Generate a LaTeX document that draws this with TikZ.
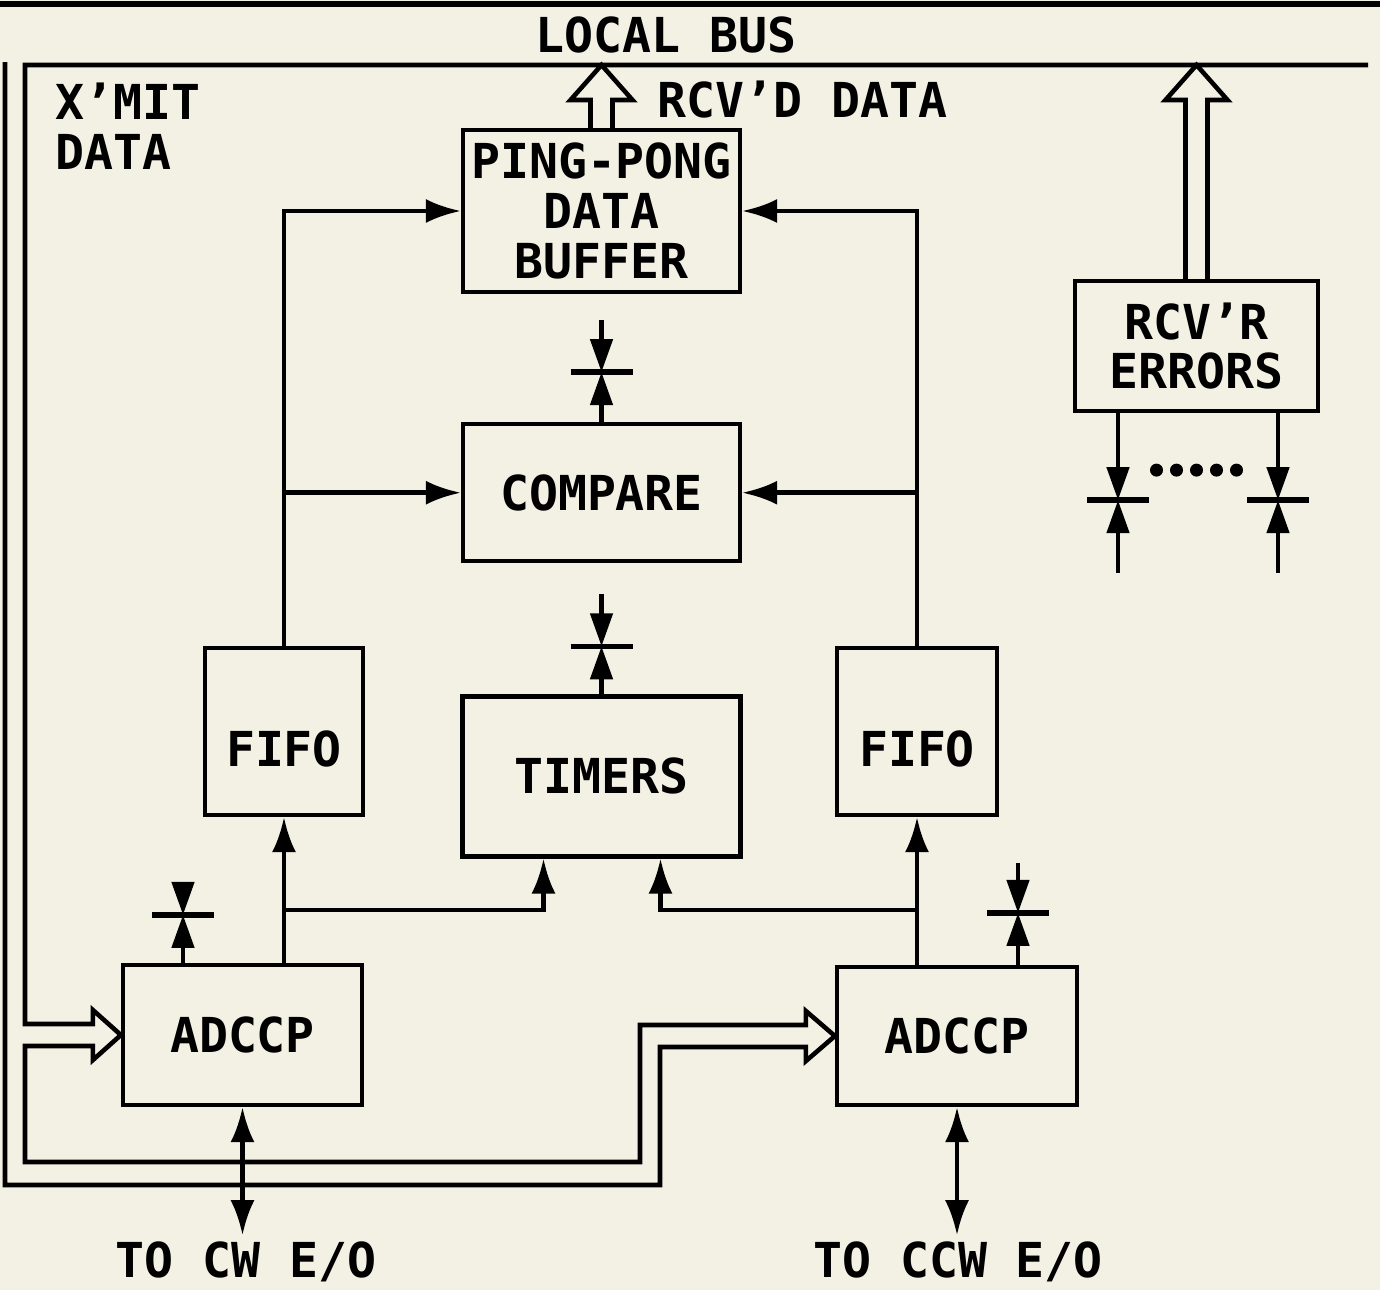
\documentclass[tikz,border=0pt]{standalone}
\usepackage{fontspec}
\usepackage{tikz}
\usetikzlibrary{arrows.meta,positioning,calc}
\newfontfamily\plotfont{DejaVu Sans Mono}
\newcommand{\diagfont}{\plotfont\bfseries\fontsize{13.7}{14.2}\selectfont}
\definecolor{paper}{RGB}{243,240,228}

\begin{document}
\begin{tikzpicture}[
  blk/.style={
    rectangle, draw=black, line width=1.2pt,
    font=\diagfont, align=center, inner sep=2pt
  },
  lbl/.style={font=\diagfont, inner sep=0pt},
  arr/.style={-{Latex[length=3.5mm,width=2.4mm]}, line width=1.3pt},
  dblarr/.style={{Latex[length=3.5mm,width=2.4mm]}-{Latex[length=3.5mm,width=2.4mm]}, line width=1.3pt},
  tap/.style={-{Triangle[length=3.3mm,width=2.2mm]}, line width=1.3pt},
  tapbar/.style={line width=1.5pt},
  bus/.style={line width=1.3pt, line join=miter}
]
\useasboundingbox (0,0) rectangle (13.8,-12.9);
\fill[paper] (0,0) rectangle (13.8,-12.9);

% Blocks
\node[blk, minimum width=2.77cm, minimum height=1.62cm] (pp) at (6.015,-2.11) {PING-PONG\\DATA\\BUFFER};
\node[blk, minimum width=2.77cm, minimum height=1.37cm, below=1.28cm of pp] (cmp) {COMPARE};
\node[blk, minimum width=2.78cm, minimum height=1.60cm, below=1.31cm of cmp] (tm) {TIMERS};
\node[blk, minimum width=1.58cm, minimum height=1.67cm] (fl) at (2.84,-7.315) {\raisebox{-0.17cm}[\height][\depth]{FIFO}};
\node[blk, minimum width=1.60cm, minimum height=1.67cm] (fr) at (9.17,-7.315) {\raisebox{-0.17cm}[\height][\depth]{FIFO}};
\node[blk, minimum width=2.39cm, minimum height=1.40cm] (adl) at (2.425,-10.35) {ADCCP};
\node[blk, minimum width=2.40cm, minimum height=1.38cm] (adr) at (9.57,-10.36) {ADCCP};
\node[blk, minimum width=2.43cm, minimum height=1.30cm] (err) at (11.965,-3.46) {RCV’R\\ERRORS};

% Labels
\node[lbl] (lbus) at (6.66,-0.35) {LOCAL BUS};
\node[lbl, anchor=west, align=left] (xmit) at (0.55,-1.26) {X’MIT\\DATA};
\node[lbl, anchor=west] (rcvd) at (6.57,-1.00) {RCV’D DATA};
\node[lbl] (cw) at (2.46,-12.62) {TO CW E/O};
\node[lbl] (ccw) at (9.58,-12.62) {TO CCW E/O};

% Bus corners
\coordinate (topL) at (0,-0.04);
\coordinate (topR) at (13.8,-0.04);
\coordinate (busL) at (0.25,-0.65);
\coordinate (busR) at (13.68,-0.65);
\coordinate (outer) at (0.05,-0.62);
\coordinate (c1) at (0.25,-11.62);
\coordinate (c2) at (6.40,-11.62);
\coordinate (c3) at (6.60,-11.85);
\coordinate (c4) at (0.05,-11.85);

\draw[line width=1.6pt] (topL) -- (topR);

% Local bus and X'MIT data bus into both ADCCPs
\draw[bus] (busR) -- (busL) |- ($(adl.west)+(-0.28,0.11)$) -- ++(0,0.14) -- (adl.west)
  -- ++(-0.28,-0.25) -- ++(0,0.14) -| (c1) -- (c2) |- ($(adr.west)+(-0.29,0.11)$)
  -- ++(0,0.14) -- (adr.west) -- ++(-0.29,-0.25) -- ++(0,0.14) -| (c3) -- (c4) -- (outer);

% Wide arrows up to the local bus
\coordinate (ppbus) at (pp.north |- busL);
\coordinate (errbus) at (err.north |- busL);
\draw[bus] ($(pp.north)+(-0.11,0)$) -- ($(ppbus)+(-0.11,-0.35)$) -- ++(-0.20,0) -- (ppbus)
  -- ++(0.31,-0.35) -- ++(-0.20,0) -- ($(pp.north)+(0.11,0)$);
\draw[bus] ($(err.north)+(-0.11,0)$) -- ($(errbus)+(-0.11,-0.35)$) -- ++(-0.20,0) -- (errbus)
  -- ++(0.31,-0.35) -- ++(-0.20,0) -- ($(err.north)+(0.11,0)$);

% FIFO outputs
\draw[arr] (fl.north) |- (pp.west);
\draw[arr] (fl.north |- cmp.west) -- (cmp.west);
\draw[arr] (fr.north) |- (pp.east);
\draw[arr] (fr.north |- cmp.east) -- (cmp.east);

% ADCCP outputs to FIFOs and timers
\coordinate (tmL) at ($(tm.south)+(-0.58,0)$);
\coordinate (tmR) at ($(tm.south)+(0.59,0)$);
\coordinate (jl) at ($(adl.north -| fl.south)+(0,0.53)$);
\coordinate (jr) at ($(adr.north -| fr.south)+(0,0.55)$);
\draw[arr] (adl.north -| fl.south) -- (fl.south);
\draw[arr] (adr.north -| fr.south) -- (fr.south);
\draw[arr] (jl) -| (tmL);
\draw[arr] (jr) -| (tmR);

% Links to the E/O units
\draw[dblarr] (adl.south) -- ($(adl.south |- cw.north)+(0,0.06)$);
\draw[dblarr] (adr.south) -- ($(adr.south |- ccw.north)+(0,0.06)$);

% Control taps
\coordinate (g1) at ($(cmp.north)+(0,0.50)$);
\coordinate (g1e) at ($(cmp.north)+(0,1.02)$);
\draw[tap] (g1e) -- (g1);
\draw[tap] (cmp.north) -- (g1);
\draw[tapbar] ($(g1)+(-0.31,0)$) -- ($(g1)+(0.31,0)$);

\coordinate (g2) at ($(tm.north)+(0,0.48)$);
\coordinate (g2e) at ($(tm.north)+(0,1.00)$);
\draw[tap] (g2e) -- (g2);
\draw[tap] (tm.north) -- (g2);
\draw[tapbar] ($(g2)+(-0.31,0)$) -- ($(g2)+(0.31,0)$);

\coordinate (g3b) at ($(adl.north)+(-0.595,0)$);
\coordinate (g3) at ($(g3b)+(0,0.48)$);
\coordinate (g3e) at ($(g3b)+(0,0.80)$);
\draw[tap] (g3e) -- (g3);
\draw[tap] (g3b) -- (g3);
\draw[tapbar] ($(g3)+(-0.31,0)$) -- ($(g3)+(0.31,0)$);

\coordinate (g4b) at ($(adr.north)+(0.61,0)$);
\coordinate (g4) at ($(g4b)+(0,0.52)$);
\coordinate (g4e) at ($(g4b)+(0,1.02)$);
\draw[tap] (g4e) -- (g4);
\draw[tap] (g4b) -- (g4);
\draw[tapbar] ($(g4)+(-0.31,0)$) -- ($(g4)+(0.31,0)$);

\coordinate (g5b) at ($(err.south)+(-0.785,0)$);
\coordinate (g5) at ($(g5b)+(0,-0.87)$);
\coordinate (g5e) at ($(g5b)+(0,-1.60)$);
\draw[tap] (g5b) -- (g5);
\draw[tap] (g5e) -- (g5);
\draw[tapbar] ($(g5)+(-0.31,0)$) -- ($(g5)+(0.31,0)$);

\coordinate (g6b) at ($(err.south)+(0.815,0)$);
\coordinate (g6) at ($(g6b)+(0,-0.87)$);
\coordinate (g6e) at ($(g6b)+(0,-1.60)$);
\draw[tap] (g6b) -- (g6);
\draw[tap] (g6e) -- (g6);
\draw[tapbar] ($(g6)+(-0.31,0)$) -- ($(g6)+(0.31,0)$);

\foreach \i in {0,...,4}
  \fill ($(err.south)+(-0.40+0.2*\i,-0.57)$) circle (0.065);

\end{tikzpicture}
\end{document}
